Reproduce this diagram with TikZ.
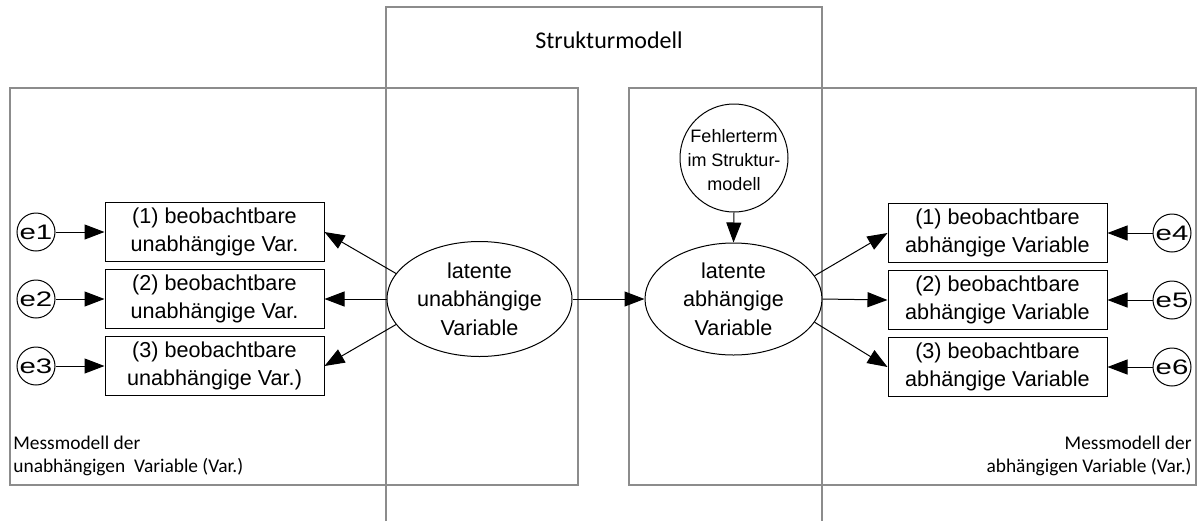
\documentclass[tikz,border=0pt]{standalone}
\usepackage{fontspec}
\setmainfont{Liberation Sans}
\newfontfamily\calfont{Carlito}
\usetikzlibrary{arrows.meta,shapes.geometric}
\definecolor{framegray}{RGB}{140,140,140}
\begin{document}
\begin{tikzpicture}[x=0.5pt,y=-0.5pt,
  frame/.style={draw=framegray,line width=0.6pt},
  obsbox/.style={draw,line width=0.5pt,minimum width=109.5pt,minimum height=29.5pt,inner sep=0pt,align=center,font=\fontsize{10.8pt}{14.3pt}\selectfont,fill=white},
  errc/.style={draw,circle,line width=0.5pt,minimum size=19pt,inner sep=0pt,font=\fontsize{10.5pt}{12pt}\selectfont,fill=white},
  lat/.style={draw,ellipse,line width=0.5pt,inner sep=0pt,align=center,font=\fontsize{10.8pt}{14.3pt}\selectfont,fill=white},
  arr/.style={-{Triangle[length=10pt,width=7.5pt]},line width=0.5pt},
  lbl/.style={font=\calfont\fontsize{9.7pt}{11.5pt}\selectfont,inner sep=0pt}
]
\useasboundingbox (0,0) rectangle (1200,521);

% frames
\draw[frame] (10,88) rectangle (578,485);
\draw[frame] (629,88) rectangle (1196,485);
\draw[frame] (386,521) -- (386,7) -- (822,7) -- (822,521);

\node[font=\calfont\fontsize{12pt}{14pt}\selectfont,anchor=base,inner sep=0pt] (st) at (609,48.5) {Strukturmodell};
\node[lbl,anchor=west,align=left] (ml) at (13,456) {Messmodell der\\unabhängigen~ Variable (Var.)};
\node[lbl,anchor=east,align=right] (mr) at (1192,456) {Messmodell der\\abhängigen Variable (Var.)};

% left measurement model
\node[obsbox] (b1) at (214.5,232) {(1) beobachtbare\\unabhängige Var.};
\node[obsbox] (b2) at (214.5,299) {(2) beobachtbare\\unabhängige Var.};
\node[obsbox] (b3) at (214.5,366) {(3) beobachtbare\\unabhängige Var.)};
\node[errc] (e1) at (36,232) {\scalebox{1.4}[1]{e1}};
\node[errc] (e2) at (36,299) {\scalebox{1.4}[1]{e2}};
\node[errc] (e3) at (36,366) {\scalebox{1.4}[1]{e3}};

% latent variables
\node[lat,minimum width=92.5pt,minimum height=57.5pt] (lu) at (479.5,299) {latente\\unabhängige\\Variable};
\node[lat,minimum width=88.5pt,minimum height=56pt] (la) at (733.5,299) {latente\\abhängige\\Variable};
\node[draw,circle,minimum size=54pt,inner sep=0pt,line width=0.5pt,fill=white] (fe) at (734,158) {};
\node[align=center,font=\fontsize{9pt}{12pt}\selectfont,inner sep=0pt] (fet) at (734,160) {Fehlerterm\\im Struktur-\\modell};

% right measurement model
\node[obsbox] (c1) at (997.5,233) {(1) beobachtbare\\abhängige Variable};
\node[obsbox] (c2) at (997.5,300) {(2) beobachtbare\\abhängige Variable};
\node[obsbox] (c3) at (997.5,367) {(3) beobachtbare\\abhängige Variable};
\node[errc] (e4) at (1172,233) {\scalebox{1.4}[1]{e4}};
\node[errc] (e5) at (1172,300) {\scalebox{1.4}[1]{e5}};
\node[errc] (e6) at (1172,367) {\scalebox{1.4}[1]{e6}};

% connectors
\draw[arr] (e1) -- (b1.west);
\draw[arr] (e2) -- (b2.west);
\draw[arr] (e3) -- (b3.west);
\draw[arr] (lu.163) -- (b1.east);
\draw[arr] (lu.west) -- (b2.east);
\draw[arr] (lu.197) -- (b3.east);
\draw[arr] (lu.east) -- (la.west);
\draw[arr] (fe.south) -- (la.north);
\draw[arr] (la.16) -- (c1.west);
\draw[arr] (la.east) -- (c2.west);
\draw[arr] (la.-16) -- (c3.west);
\draw[arr] (e4) -- (c1.east);
\draw[arr] (e5) -- (c2.east);
\draw[arr] (e6) -- (c3.east);
\end{tikzpicture}
\end{document}
